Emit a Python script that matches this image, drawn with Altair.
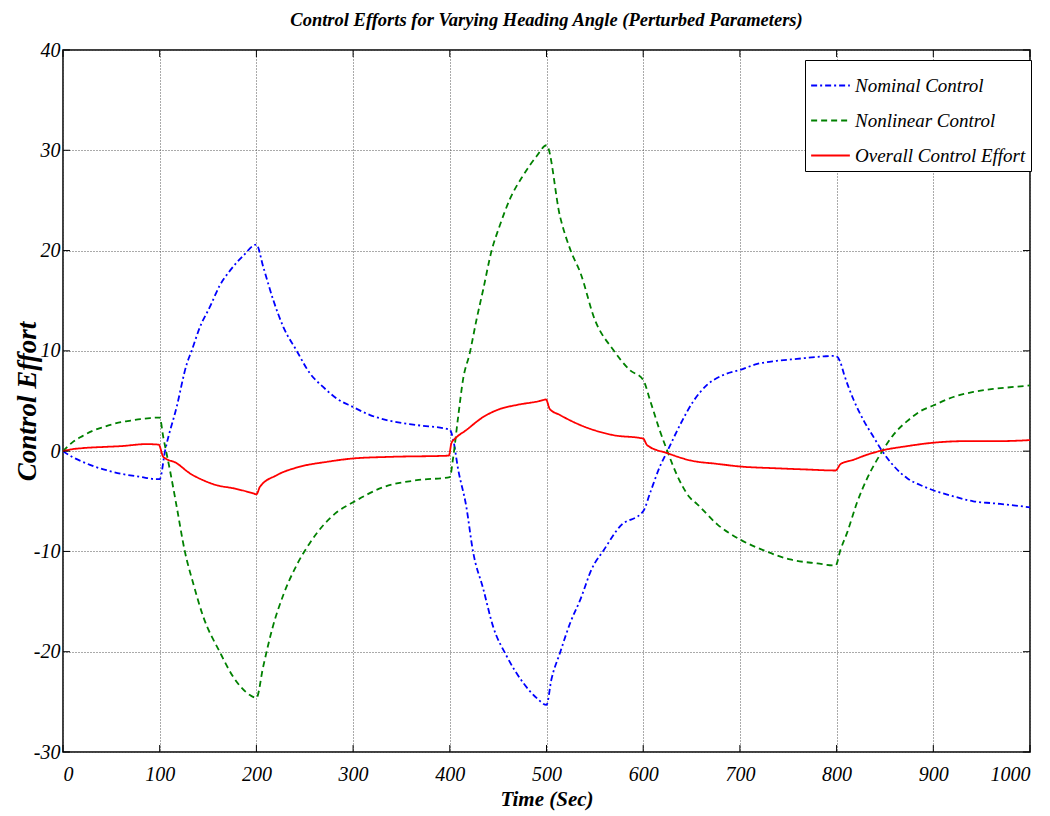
import altair as alt
import pandas as pd

# Time stamps (s) and control values for each signal
nominal_t = [0, 10, 20, 30, 45, 60, 80, 97, 100, 105.5, 117.5, 128, 133, 141.7, 152, 162, 172.7,
             186.5, 200, 207, 217.5, 227.8, 241.7, 255.4, 269, 283, 300, 317.5, 334.7, 365.8, 398,
             400, 403.4, 408.6, 417, 424, 434.5, 444.8, 458.6, 475.9, 489.7, 500, 505, 514, 525,
             535, 547, 559, 576, 600, 607, 617, 625, 638, 652, 666, 683, 700, 718, 738, 759, 787,
             799, 803.8, 807.6, 817.9, 828.3, 838.6, 847.2, 859.3, 873, 887, 900, 920.7, 941.4,
             962, 983, 1000]
nominal_u = [0, -0.6, -1.05, -1.45, -1.9, -2.25, -2.56, -2.8, -2.8, 0, 4.4, 8.7, 10, 12.4, 14.4,
             16.5, 18.0, 19.5, 20.6, 18.4, 15.05, 12.4, 10, 7.75, 6.4, 5.25, 4.4, 3.6, 3.1, 2.6,
             2.2, 2.15, 1.2, -1.8, -5.5, -10, -13.7, -17.5, -20.4, -23.1, -24.6, -25.3, -22.8,
             -20.1, -17, -14.8, -11.7, -9.9, -7.5, -6.0, -4.2, -1.6, 0, 2.6, 5.0, 6.6, 7.6, 8.1,
             8.7, 9.0, 9.2, 9.45, 9.5, 8.9, 7.7, 5.05, 3.0, 1.35, 0, -1.5, -2.7, -3.4, -3.9, -4.5,
             -5.0, -5.2, -5.4, -5.6]

nonlinear_t = [0, 10, 20, 30, 40, 50, 60, 70, 80, 90, 100, 103.7, 110.6, 117.5, 126, 134.7, 145,
               162, 176, 193, 200, 207, 217, 228, 242, 255, 270, 283, 300, 331, 365.8, 400, 403.4,
               408.6, 413.8, 420.7, 427.6, 434.5, 443, 451.7, 462, 475.9, 489.7, 500, 514, 525, 535,
               550, 569, 586, 600, 607, 617, 625, 635, 648, 656, 676.6, 700, 724.7, 752, 780, 799,
               803.8, 811, 821.4, 831.7, 847.2, 859.3, 873, 887, 900, 920.7, 941.4, 962, 983, 1000]
nonlinear_u = [0, 0.9, 1.5, 2.0, 2.35, 2.65, 2.9, 3.05, 3.2, 3.3, 3.35, 1.4, -1.9, -5.5, -10,
               -13.2, -16.5, -20, -22.5, -24.3, -24.6, -21.5, -17.5, -14.3, -11.3, -9.2, -7.3,
               -6.1, -5.1, -3.6, -2.9, -2.6, -0.7, 3.4, 7.2, 9.8, 13.1, 16.1, 19.9, 22.5, 25.1,
               27.5, 29.4, 30.5, 23.4, 20, 17.8, 13.1, 10.1, 8.1, 7.1, 5.1, 2.1, 0, -2.4, -4.6,
               -5.3, -7.3, -8.8, -9.9, -10.8, -11.2, -11.4, -9.9, -8.1, -5.05, -2.7, 0, 1.7, 3.0,
               4.0, 4.55, 5.4, 5.9, 6.2, 6.4, 6.55]

overall_t = [0, 10, 20, 45, 60, 86, 99, 103.7, 117.5, 131, 145, 159, 176, 196.5, 200, 203.7, 221,
             245, 272.7, 300, 338, 399, 401.7, 405, 417, 434.5, 451.7, 469, 493, 499.5, 503.4, 514,
             535, 569, 600, 604, 625, 649, 676.6, 700, 735, 769, 799, 804, 818, 832, 847, 873, 900,
             935, 969, 1000]
overall_u = [0, 0.2, 0.3, 0.43, 0.5, 0.7, 0.65, -0.57, -1.2, -2.2, -2.9, -3.4, -3.7, -4.2, -4.3,
             -3.55, -2.4, -1.55, -1.07, -0.73, -0.57, -0.45, 0.8, 1.2, 2.1, 3.4, 4.2, 4.6, 5.0,
             5.15, 4.2, 3.6, 2.6, 1.6, 1.25, 0.6, -0.2, -0.93, -1.27, -1.53, -1.7, -1.83, -1.93,
             -1.3, -0.84, -0.34, 0.07, 0.5, 0.84, 1.0, 1.0, 1.1]

series_names = ["Nominal Control", "Nonlinear Control", "Overall Control Effort"]
series_colors = ["#0000ff", "#008000", "#ff0000"]
series_dashes = [[6, 3, 2, 3], [6, 4], [1, 0]]
series_widths = [1.8, 1.8, 3]

x_ticks = list(range(0, 1001, 100))
y_ticks = list(range(-30, 41, 10))

W, H = 967, 702
FONT = "Liberation Serif"

frames = []
for name, t, u in zip(series_names,
                      [nominal_t, nonlinear_t, overall_t],
                      [nominal_u, nonlinear_u, overall_u]):
    frames.append(pd.DataFrame({"t": t, "u": u, "series": name}))
df = pd.concat(frames, ignore_index=True)

x_scale = alt.Scale(domain=[0, 1000], nice=False, zero=False)
y_scale = alt.Scale(domain=[-30, 40], nice=False, zero=False)

# plain labels: no thousands separator, ASCII hyphen for negatives
plain = "'' + datum.value"
x_axis = alt.Axis(values=x_ticks, title="Time (Sec)", labelExpr=plain,
                  labelPadding=12, titlePadding=4, titleFontSize=21)
y_axis = alt.Axis(values=y_ticks, title="Control Effort", labelExpr=plain,
                  labelPadding=3, titleX=-36, titleY=H / 2, titleAngle=-90,
                  titleAlign="center", titleBaseline="middle", titleFontSize=27)

legend = alt.Legend(title=None, orient="none", legendX=742, legendY=10)

lines = alt.Chart(df).mark_line(clip=True, interpolate="monotone").encode(
    x=alt.X("t:Q", scale=x_scale, axis=x_axis),
    y=alt.Y("u:Q", scale=y_scale, axis=y_axis),
    color=alt.Color("series:N", scale=alt.Scale(domain=series_names, range=series_colors),
                    legend=legend),
    strokeDash=alt.StrokeDash("series:N",
                              scale=alt.Scale(domain=series_names, range=series_dashes),
                              legend=legend),
    strokeWidth=alt.StrokeWidth("series:N",
                                scale=alt.Scale(domain=series_names, range=series_widths),
                                legend=legend),
)

# Inward tick marks on all four sides of the box
xt = pd.DataFrame({"t": x_ticks})
yt = pd.DataFrame({"u": y_ticks})
tick_x = alt.X("t:Q", scale=x_scale, axis=x_axis)
tick_y = alt.Y("u:Q", scale=y_scale, axis=y_axis)
ticks_bottom = alt.Chart(xt).mark_rule(color="black", strokeWidth=1).encode(
    x=tick_x, y=alt.value(H), y2=alt.value(H - 7))
ticks_top = alt.Chart(xt).mark_rule(color="black", strokeWidth=1).encode(
    x=tick_x, y=alt.value(0), y2=alt.value(7))
ticks_left = alt.Chart(yt).mark_rule(color="black", strokeWidth=1).encode(
    y=tick_y, x=alt.value(0), x2=alt.value(7))
ticks_right = alt.Chart(yt).mark_rule(color="black", strokeWidth=1).encode(
    y=tick_y, x=alt.value(W), x2=alt.value(W - 7))

chart = alt.layer(lines, ticks_bottom, ticks_top, ticks_left, ticks_right).properties(
    width=W,
    height=H,
    autosize="none",
    padding={"left": 63, "top": 50, "right": 20, "bottom": 64},
    title=alt.TitleParams(
        "Control Efforts for Varying Heading Angle (Perturbed Parameters)",
        font=FONT, fontSize=18.5, fontStyle="italic", fontWeight="bold", color="black",
        offset=11,
    ),
).configure_view(
    stroke="black", strokeWidth=1.5
).configure_axis(
    labelFont=FONT, labelFontSize=20, labelFontStyle="italic", labelColor="black",
    titleFont=FONT, titleFontStyle="italic", titleFontWeight="bold",
    titleColor="black",
    grid=True, gridColor="#555555", gridDash=[1, 2], gridWidth=1, gridOpacity=1,
    domain=False, ticks=False,
).configure_legend(
    labelFont=FONT, labelFontSize=19, labelFontStyle="italic", labelColor="black",
    labelLimit=400, symbolType="stroke", symbolSize=1500, symbolStrokeWidth=2,
    strokeColor="black", fillColor="white", padding=5, rowPadding=4, cornerRadius=0,
    labelOffset=4,
)

chart.save("out.html", embed_options={"renderer": "svg", "actions": False})
